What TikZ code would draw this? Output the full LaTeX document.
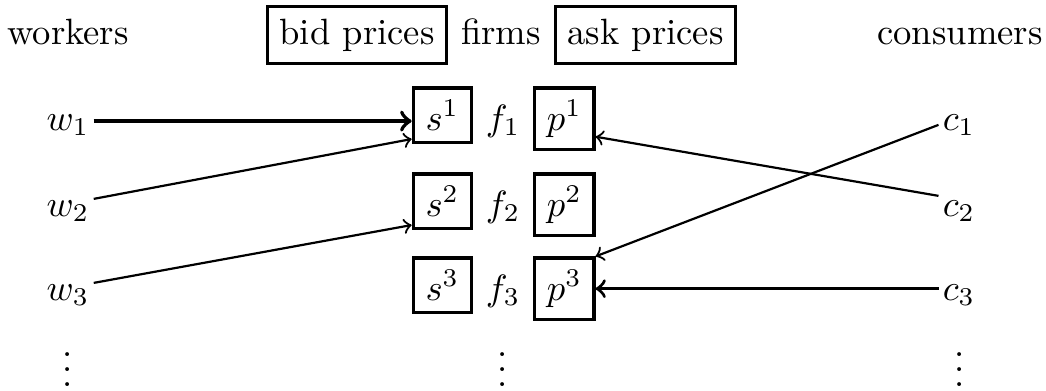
\documentclass[tikz,border=0pt]{standalone}
\usepackage{amsmath,amssymb}
\usepackage{tikz}
\usetikzlibrary{positioning,arrows}

\begin{document}
\begin{tikzpicture}[x=0.2733pt, y=-0.2733pt, node distance=0pt,
    price box/.style={rectangle, draw, line width=0.9pt},
    agent/.style={inner sep=1pt, anchor=base},
    more/.style={inner sep=1pt, text height=9pt, anchor=base},
    flow/.style={->, line width=0.6pt},
    heavy flow/.style={->, line width=1.1pt}]

    \useasboundingbox (0,0) rectangle (1046,390);

    \node [anchor=base] (firms) at (501,44) {firms};
    \node [price box, base left=of firms] (bid) {bid prices};
    \node [price box, base right=of firms] (ask) {ask prices};
    \node [anchor=base] (workers) at (68,44) {workers};
    \node [anchor=base] (consumers) at (960,44) {consumers};

    \node [anchor=base] (f1) at (503,130) {$f_1$};
    \node [anchor=base] (f2) at (503,216) {$f_2$};
    \node [anchor=base] (f3) at (503,300) {$f_3$};
    \node [price box, base left=of f1] (s1) {$s^1$};
    \node [price box, base left=of f2] (s2) {$s^2$};
    \node [price box, base left=of f3] (s3) {$s^3$};
    \node [price box, base right=of f1] (p1) {$p^1$};
    \node [price box, base right=of f2] (p2) {$p^2$};
    \node [price box, base right=of f3] (p3) {$p^3$};

    \node [agent] (w1) at (68,130) {$w_1$};
    \node [agent] (w2) at (68,216) {$w_2$};
    \node [agent] (w3) at (68,300) {$w_3$};
    \node [agent] (c1) at (959,130) {$c_1$};
    \node [agent] (c2) at (959,216) {$c_2$};
    \node [agent] (c3) at (959,300) {$c_3$};

    \node [more] (wdots) at (68,386) {$\vdots$};
    \node [more] (fdots) at (503,386) {$\vdots$};
    \node [more] (cdots) at (960,386) {$\vdots$};

    \draw [heavy flow] (w1.east |- s1.191) -- (s1.191);
    \draw [flow] (w2.25) -- (s1.218);
    \draw [flow] (w3.25) -- (s2.218);

    \draw [flow] (c1.west) -- (p3.north east);
    \draw [flow] (c2.north west) -- (p1.-30);
    \draw [flow, line width=0.9pt] (c3.west |- p3.east) -- (p3.east);

\end{tikzpicture}
\end{document}
